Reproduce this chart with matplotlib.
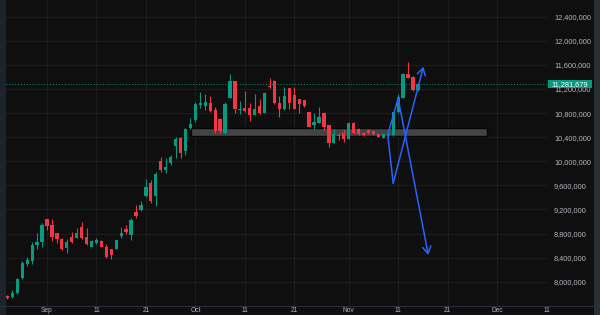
import numpy as np
import pandas as pd
import matplotlib
matplotlib.use('Agg')
import matplotlib.pyplot as plt
import matplotlib.dates as mdates
import matplotlib.transforms as mtransforms
from matplotlib.patches import Rectangle
from matplotlib.lines import Line2D
from matplotlib.ticker import FuncFormatter

# daily candles, Aug 24 -> Nov 15
dates = pd.date_range('2023-08-24', periods=84, freq='D')
opens = [7767000, 7741000, 7807000, 8056000, 8294000, 8349000, 8609000, 8664000,
         9036000, 8941000, 8804000, 8709000, 8555000, 8747000, 8730000, 8903000,
         8737000, 8582000, 8643000, 8676000, 8582000, 8538000, 8551000, 8764000,
         8870000, 8775000, 9162000, 9191000, 9428000, 9644000, 9428000, 10009000,
         9855000, 9966000, 10258000, 10391000, 10170000, 10547000, 10685000, 10939000,
         10917000, 10972000, 10851000, 10696000, 10464000, 11055000, 11332000, 10851000,
         10884000, 10884000, 10768000, 10917000, 10806000, 11249000, 11337000, 10972000,
         10863000, 11211000, 11092000, 11029000, 11017000, 10813000, 10602000, 10640000,
         10796000, 10602000, 10308000, 10436000, 10474000, 10369000, 10630000, 10530000,
         10474000, 10519000, 10502000, 10447000, 10394000, 10428000, 10436000, 10813000,
         11055000, 11444000, 11404000, 11183000]
highs = [7787000, 7862000, 8053000, 8344000, 8405000, 8654000, 8804000, 8970000,
         9045000, 9036000, 8815000, 8720000, 8704000, 8820000, 8887000, 8986000,
         8887000, 8686000, 8720000, 8690000, 8626000, 8550000, 8700000, 8913000,
         8941000, 9053000, 9274000, 9348000, 9705000, 9689000, 9826000, 10075000,
         10049000, 10104000, 10408000, 10400000, 10550000, 10713000, 10989000, 11145000,
         11112000, 11083000, 10906000, 10710000, 10989000, 11449000, 11340000, 11005000,
         11171000, 10962000, 11117000, 11034000, 11150000, 11387000, 11345000, 11083000,
         11238000, 11220000, 11238000, 11040000, 11025000, 10820000, 10796000, 10906000,
         10813000, 10610000, 10530000, 10464000, 10519000, 10657000, 10657000, 10545000,
         10490000, 10530000, 10510000, 10460000, 10460000, 10470000, 10825000, 11112000,
         11460000, 11653000, 11420000, 11300000]
lows = [7713000, 7729000, 7796000, 8045000, 8261000, 8289000, 8543000, 8582000,
        8858000, 8681000, 8647000, 8530000, 8482000, 8650000, 8720000, 8712000,
        8615000, 8570000, 8626000, 8575000, 8395000, 8372000, 8540000, 8730000,
        8800000, 8692000, 9063000, 9174000, 9411000, 9312000, 9257000, 9826000,
        9800000, 9938000, 10049000, 10049000, 10104000, 10540000, 10657000, 10879000,
        10851000, 10825000, 10464000, 10474000, 10452000, 11045000, 10806000, 10784000,
        10825000, 10668000, 10763000, 10784000, 10796000, 11222000, 10951000, 10740000,
        10855000, 10863000, 10860000, 10796000, 10905000, 10565000, 10530000, 10630000,
        10519000, 10241000, 10300000, 10353000, 10325000, 10364000, 10452000, 10430000,
        10420000, 10450000, 10440000, 10395000, 10385000, 10415000, 10425000, 10805000,
        11045000, 11380000, 11166000, 11170000]
closes = [7734000, 7817000, 8040000, 8305000, 8360000, 8609000, 8654000, 8941000,
          8925000, 8737000, 8709000, 8543000, 8664000, 8664000, 8804000, 8720000,
          8626000, 8676000, 8687000, 8582000, 8410000, 8443000, 8692000, 8814000,
          8820000, 9024000, 9091000, 9274000, 9577000, 9345000, 9788000, 9855000,
          9899000, 10075000, 10364000, 10142000, 10540000, 10618000, 10955000, 10972000,
          10989000, 10834000, 10502000, 10502000, 10951000, 11332000, 10868000, 10868000,
          10834000, 10768000, 10868000, 10796000, 11138000, 11228000, 10962000, 10863000,
          11083000, 10962000, 10868000, 10946000, 10917000, 10574000, 10647000, 10740000,
          10574000, 10308000, 10452000, 10419000, 10364000, 10630000, 10474000, 10447000,
          10436000, 10464000, 10452000, 10408000, 10447000, 10457000, 10813000, 11072000,
          11444000, 11387000, 11183000, 11281679]
last_price = 11281679

# drawings: support zone and the two projected paths
zone_start, zone_end = pd.Timestamp('2023-09-30 02:00'), pd.Timestamp('2023-11-28 22:00')
zone_low, zone_high = 10424000, 10547000
down_path_t = ['2023-11-08 21:30', '2023-11-11 00:00', '2023-11-17 02:30']
down_path_p = [10436000, 11045000, 8443000]
up_path_t = ['2023-11-08 21:30', '2023-11-10 00:00', '2023-11-16 02:30']
up_path_p = [10436000, 9634000, 11570000]

price_ticks = list(range(8000000, 12400001, 400000))

BG = '#0f0f0f'
GRID = '#1d1d1d'
TXT = '#b2b5be'
GREEN = '#089981'
RED = '#f23645'
BLUE = '#2962ff'

plt.rcParams['font.family'] = ['Liberation Sans', 'DejaVu Sans']

fig = plt.figure(figsize=(6, 3.15), dpi=100, facecolor=BG)
ax = fig.add_axes([6 / 600, 9 / 315, 541 / 600, 306 / 315], facecolor=BG)

x = mdates.date2num(dates)
o = np.array(opens)
h = np.array(highs)
l = np.array(lows)
c = np.array(closes)
cols = np.where(c >= o, GREEN, RED)

ax.vlines(x, l, h, colors=cols, lw=0.8, zorder=3)
ax.bar(x, np.maximum(np.abs(c - o), 15000), bottom=np.minimum(o, c), width=0.66,
       color=cols, linewidth=0, zorder=4)

# support zone
ax.add_patch(Rectangle((mdates.date2num(zone_start), zone_low),
                       mdates.date2num(zone_end) - mdates.date2num(zone_start),
                       zone_high - zone_low, facecolor='#4a4a4a', edgecolor='#000000',
                       lw=1.0, alpha=0.9, zorder=2))

# current price line
ax.axhline(last_price, color=GREEN, lw=0.7, ls=(0, (1, 2)), zorder=2)

# projected paths
for tt, pp in [(down_path_t, down_path_p), (up_path_t, up_path_p)]:
    tx = mdates.date2num(pd.to_datetime(tt))
    ax.plot(tx[:-1], pp[:-1], color=BLUE, lw=1.1, zorder=5, solid_capstyle='round')
    ax.annotate('', xy=(tx[-1], pp[-1]), xytext=(tx[-2], pp[-2]),
                arrowprops=dict(arrowstyle='->,head_length=0.5,head_width=0.3',
                                color=BLUE, lw=1.1, shrinkA=0, shrinkB=0), zorder=5)

sep1 = mdates.date2num(pd.Timestamp('2023-09-01'))
ax.set_xlim(sep1 - 8.29, sep1 + 101.1)
ax.set_ylim(7596300, 12677300)

ax.xaxis.set_major_locator(mdates.DayLocator(bymonthday=[1, 11, 21]))
ax.xaxis.set_major_formatter(FuncFormatter(
    lambda v, pos: mdates.num2date(v).strftime('%b') if mdates.num2date(v).day == 1
    else str(mdates.num2date(v).day)))
ax.set_yticks(price_ticks)
ax.yaxis.set_major_formatter(FuncFormatter(lambda v, pos: f'{int(v):,}'))
ax.yaxis.tick_right()
ax.tick_params(axis='y', length=0, pad=5, labelsize=5.3, labelcolor=TXT)
ax.tick_params(axis='x', length=0, pad=0.8, labelsize=4.8, labelcolor=TXT)
ax.grid(True, color=GRID, lw=0.8)
ax.set_axisbelow(True)
for s in ax.spines.values():
    s.set_visible(False)

# price label box
trans = mtransforms.blended_transform_factory(fig.transFigure, ax.transData)
ax.add_patch(Rectangle((548 / 600, last_price - 72000), 44 / 600, 144000,
                       transform=trans, facecolor=GREEN, edgecolor='none',
                       clip_on=False, zorder=10))
ax.text(570 / 600, last_price, f'{last_price:,}', transform=trans, ha='center',
        va='center', color='white', fontsize=5.3, zorder=11, clip_on=False)

# frame
fig.add_artist(Line2D([0, 1], [9 / 315, 9 / 315], color='#2a2e39', lw=0.8))
fig.add_artist(Rectangle((0, 0), 6 / 600, 1, facecolor='#1e222d', edgecolor='none'))
fig.add_artist(Rectangle((594 / 600, 0), 6 / 600, 1, facecolor='#2a2e39', edgecolor='none'))

fig.savefig('out.png', dpi=100, facecolor=BG)
